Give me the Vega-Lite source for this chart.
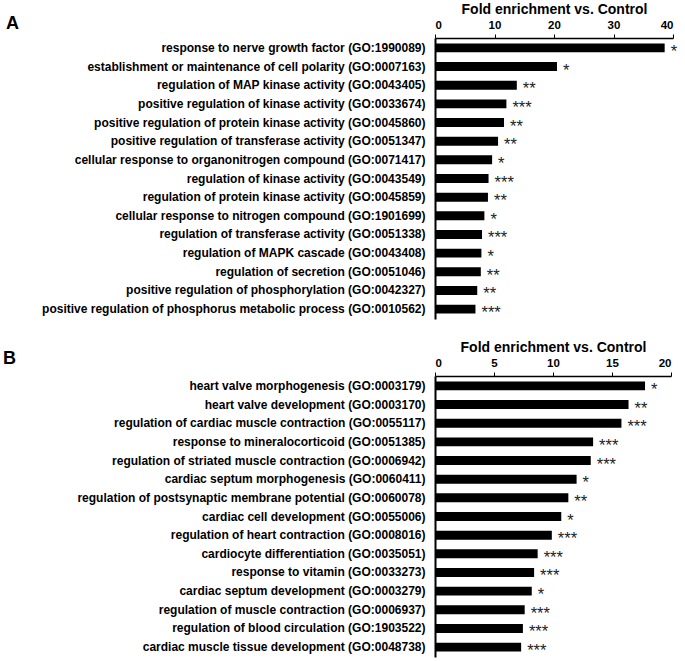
{
  "$schema": "https://vega.github.io/schema/vega-lite/v6.json",
  "padding": {"left": 3, "top": 2, "right": 0, "bottom": 0},
  "background": "white",
  "spacing": 18,
  "config": {
    "font": "Liberation Sans",
    "view": {"stroke": null},
    "axis": {"grid": false, "domainColor": "black", "tickColor": "black", "labelColor": "black", "titleColor": "black"}
  },
  "datasets": {
    "a": [
      {"term": "response to nerve growth factor (GO:1990089)", "fold": 38.6, "sig": "*"},
      {"term": "establishment or maintenance of cell polarity (GO:0007163)", "fold": 20.5, "sig": "*"},
      {"term": "regulation of MAP kinase activity (GO:0043405)", "fold": 13.75, "sig": "**"},
      {"term": "positive regulation of kinase activity (GO:0033674)", "fold": 12.0, "sig": "***"},
      {"term": "positive regulation of protein kinase activity (GO:0045860)", "fold": 11.6, "sig": "**"},
      {"term": "positive regulation of transferase activity (GO:0051347)", "fold": 10.6, "sig": "**"},
      {"term": "cellular response to organonitrogen compound (GO:0071417)", "fold": 9.6, "sig": "*"},
      {"term": "regulation of kinase activity (GO:0043549)", "fold": 9.0, "sig": "***"},
      {"term": "regulation of protein kinase activity (GO:0045859)", "fold": 8.9, "sig": "**"},
      {"term": "cellular response to nitrogen compound (GO:1901699)", "fold": 8.3, "sig": "*"},
      {"term": "regulation of transferase activity (GO:0051338)", "fold": 7.9, "sig": "***"},
      {"term": "regulation of MAPK cascade (GO:0043408)", "fold": 7.8, "sig": "*"},
      {"term": "regulation of secretion (GO:0051046)", "fold": 7.7, "sig": "**"},
      {"term": "positive regulation of phosphorylation (GO:0042327)", "fold": 7.1, "sig": "**"},
      {"term": "positive regulation of phosphorus metabolic process (GO:0010562)", "fold": 6.8, "sig": "***"}
    ],
    "b": [
      {"term": "heart valve morphogenesis (GO:0003179)", "fold": 17.8, "sig": "*"},
      {"term": "heart valve development (GO:0003170)", "fold": 16.4, "sig": "**"},
      {"term": "regulation of cardiac muscle contraction (GO:0055117)", "fold": 15.8, "sig": "***"},
      {"term": "response to mineralocorticoid (GO:0051385)", "fold": 13.4, "sig": "***"},
      {"term": "regulation of striated muscle contraction (GO:0006942)", "fold": 13.2, "sig": "***"},
      {"term": "cardiac septum morphogenesis (GO:0060411)", "fold": 12.0, "sig": "*"},
      {"term": "regulation of postsynaptic membrane potential (GO:0060078)", "fold": 11.3, "sig": "**"},
      {"term": "cardiac cell development (GO:0055006)", "fold": 10.7, "sig": "*"},
      {"term": "regulation of heart contraction (GO:0008016)", "fold": 9.9, "sig": "***"},
      {"term": "cardiocyte differentiation (GO:0035051)", "fold": 8.7, "sig": "***"},
      {"term": "response to vitamin (GO:0033273)", "fold": 8.4, "sig": "***"},
      {"term": "cardiac septum development (GO:0003279)", "fold": 8.2, "sig": "*"},
      {"term": "regulation of muscle contraction (GO:0006937)", "fold": 7.6, "sig": "***"},
      {"term": "regulation of blood circulation (GO:1903522)", "fold": 7.45, "sig": "***"},
      {"term": "cardiac muscle tissue development (GO:0048738)", "fold": 7.3, "sig": "***"}
    ]
  },
  "vconcat": [
    {
      "title": {"text": "A", "anchor": "start", "frame": "group", "fontSize": 18, "fontWeight": "bold", "color": "black", "dx": -429, "dy": 30, "offset": 0},
      "width": 238,
      "height": 281,
      "data": {"name": "a"},
      "encoding": {
        "y": {"field": "term", "type": "nominal", "sort": null, "scale": {"paddingInner": 0.52, "paddingOuter": 0.29},
          "axis": {"title": null, "ticks": false, "domainWidth": 2, "labelFontSize": 12, "labelFontWeight": "bold", "labelPadding": 10, "labelLimit": 600}},
        "x": {"field": "fold", "type": "quantitative", "scale": {"domain": [0, 40], "nice": false},
          "axis": {"orient": "top", "title": "Fold enrichment vs. Control", "values": [0, 10, 20, 30, 40], "domainWidth": 1.5, "tickSize": 4, "labelFontSize": 11.5, "labelFontWeight": "bold", "labelPadding": 3.5, "titleFontSize": 14, "titleFontWeight": "bold", "titlePadding": 3}}
      },
      "layer": [
        {"mark": {"type": "bar", "color": "black"}},
        {"mark": {"type": "text", "align": "left", "baseline": "middle", "dx": 6, "dy": 4, "fontSize": 16.5, "color": "#222"}, "encoding": {"text": {"field": "sig"}}}
      ]
    },
    {
      "title": {"text": "B", "anchor": "start", "frame": "group", "fontSize": 18, "fontWeight": "bold", "color": "black", "dx": -432, "dy": 27, "offset": 0},
      "width": 236,
      "height": 281,
      "data": {"name": "b"},
      "encoding": {
        "y": {"field": "term", "type": "nominal", "sort": null, "scale": {"paddingInner": 0.52, "paddingOuter": 0.29},
          "axis": {"title": null, "ticks": false, "domainWidth": 2, "labelFontSize": 12, "labelFontWeight": "bold", "labelPadding": 10, "labelLimit": 600}},
        "x": {"field": "fold", "type": "quantitative", "scale": {"domain": [0, 20], "nice": false},
          "axis": {"orient": "top", "title": "Fold enrichment vs. Control", "values": [0, 5, 10, 15, 20], "domainWidth": 1.5, "tickSize": 4, "labelFontSize": 11.5, "labelFontWeight": "bold", "labelPadding": 3.5, "titleFontSize": 14, "titleFontWeight": "bold", "titlePadding": 3}}
      },
      "layer": [
        {"mark": {"type": "bar", "color": "black"}},
        {"mark": {"type": "text", "align": "left", "baseline": "middle", "dx": 6, "dy": 4, "fontSize": 16.5, "color": "#222"}, "encoding": {"text": {"field": "sig"}}}
      ]
    }
  ]
}
